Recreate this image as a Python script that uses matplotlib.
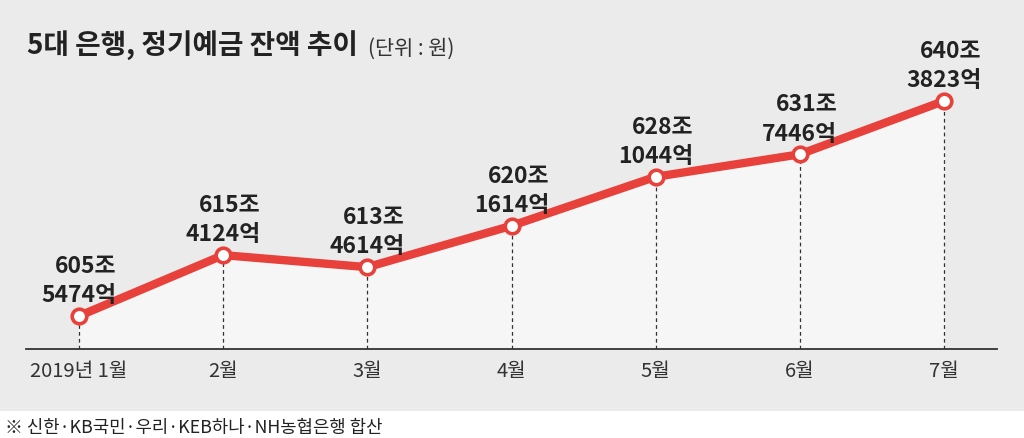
import numpy as np
import matplotlib
matplotlib.use('Agg')
import matplotlib.pyplot as plt
from matplotlib.patches import Rectangle

plt.rcParams['font.family'] = ['Noto Sans CJK KR', 'DejaVu Sans']

# 정기예금 잔액 (조 단위 + 억 단위)
months = ['2019년 1월', '2월', '3월', '4월', '5월', '6월', '7월']
jo = [605, 615, 613, 620, 628, 631, 640]
eok = [5474, 4124, 4614, 1614, 1044, 7446, 3823]
title = '5대 은행, 정기예금 잔액 추이'
unit = '(단위 : 원)'
note = '※ 신한·KB국민·우리·KEB하나·NH농협은행 합산'

balance = np.array(jo) + np.array(eok) / 10000
x = np.arange(len(months))

W, H = 1024, 439
fig = plt.figure(figsize=(W / 100, H / 100), dpi=100, facecolor='white')

# gray panel (the footnote sits on a white strip)
fig.add_artist(Rectangle((0, (H - 412) / H), 1, 412 / H, transform=fig.transFigure,
                         facecolor='#ebebeb', edgecolor='none', zorder=0))

# axes placed in pixels: left 26, right 997, top 20, baseline 350
ax = fig.add_axes([26 / W, (H - 350) / H, 971 / W, 330 / H])
ax.set_facecolor('none')

px_per_unit = 144.17
ax.set_xlim(-53 / px_per_unit, 6 + 53 / px_per_unit)
# vertical scale: first point 33px above baseline, last point at y=102px
scale = (317 - 102) / (balance[-1] - balance[0])
ymin = balance[0] - 33 / scale
ymax = balance[-1] + (102 - 20) / scale
ax.set_ylim(ymin, ymax)

ax.fill_between(x, balance, ymin, color='#f6f6f6', zorder=1)
ax.vlines(x, ymin, balance, colors='#333333', linestyles=(0, (3, 2.5)), lw=0.9, zorder=2)
ax.plot(x, balance, color='#e8403a', lw=6, solid_capstyle='round', zorder=3)
ax.plot(x, balance, 'o', ms=10.5, mfc='white', mec='#e8403a', mew=2.6, zorder=4)

for xi, v, j, e in zip(x, balance, jo, eok):
    ax.annotate(f'{j}조\n{e}억', xy=(xi, v), xytext=(0, 7), textcoords='offset points',
                ha='center', va='bottom', multialignment='right', fontsize=16.5,
                fontweight='bold', color='#222222', linespacing=1.35, zorder=5)

for s in ['top', 'left', 'right']:
    ax.spines[s].set_visible(False)
ax.spines['bottom'].set_color('#333333')
ax.spines['bottom'].set_linewidth(1.3)
ax.set_yticks([])
ax.set_xticks(x)
ax.set_xticklabels(months, fontsize=14.5, color='#333333')
ax.tick_params(axis='x', length=0, pad=8)

t = fig.text(27 / W, 1 - 45 / H, title, fontsize=20, fontweight='bold', color='#222222',
             ha='left', va='center')
ax.annotate(unit, xy=(1, 0), xycoords=t, xytext=(7, 0), textcoords='offset points',
            fontsize=15, color='#333333', ha='left', va='bottom')

fig.text(5 / W, 1 - 428 / H, note, fontsize=12.8, color='#222222', ha='left', va='center')

fig.savefig('out.png', dpi=100, facecolor=fig.get_facecolor())
